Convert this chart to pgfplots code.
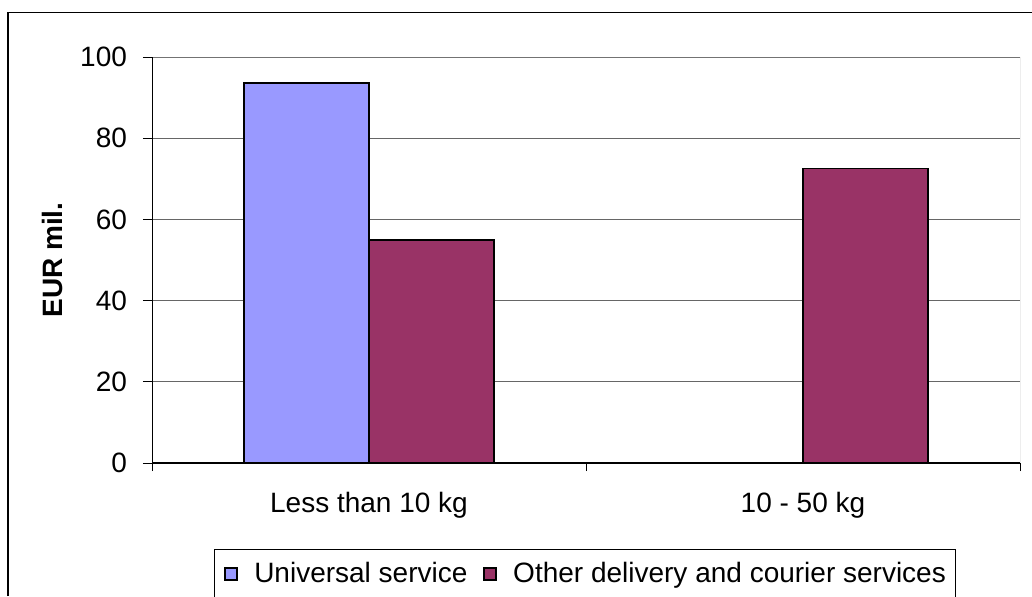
\documentclass[border=0pt]{standalone}
\usepackage{fontspec}
\setmainfont{Liberation Sans}
\usepackage{pgfplots}
\pgfplotsset{compat=1.18}
\definecolor{univ}{HTML}{9999FF}
\definecolor{other}{HTML}{993366}

\begin{document}
\begin{tikzpicture}
\useasboundingbox (0,0) rectangle (516pt,298pt);
% chart frame (open at the right and bottom)
\draw[line width=0.6pt] (4pt,0) -- (4pt,291.75pt) -- (516pt,291.75pt);
\begin{axis}[
  at={(76pt,66.5pt)}, anchor=south west,
  scale only axis, width=434pt, height=203pt,
  font=\fontsize{14}{16.5}\selectfont,
  /pgf/number format/assume math mode=true,
  ybar=0pt, bar width=0.288,
  xmin=0, xmax=2, ymin=0, ymax=100,
  ytick={0,20,...,100},
  xtick={0.5,1.5},
  xticklabels={Less than 10 kg, 10 - 50 kg},
  minor xtick={0,1,2},
  major x tick style={draw=none},
  tick align=outside, major tick length=4.5pt, minor tick length=4pt,
  xtick pos=left, ytick pos=left,
  tick style={black, line width=0.5pt},
  yticklabel style={xshift=-4.5pt},
  xticklabel style={yshift=-6.5pt},
  axis line style={draw=none},
  ymajorgrids, grid style={black!60, line width=0.5pt},
  ylabel={\textbf{EUR mil.}},
  ylabel style={at={(axis description cs:-0.1152,0.5)}, anchor=center, inner sep=0pt},
  legend columns=-1,
  legend style={at={(axis description cs:0.0714,-0.2118)}, anchor=north west,
    draw=black, line width=0.5pt, inner xsep=5pt, inner ysep=6.3pt,
    column sep=8pt, nodes={inner sep=0pt}},
  legend image code/.code={\draw[#1, draw=black, line width=0.9pt] (0pt,-3pt) rectangle (6pt,3pt);},
]
\addplot[fill=univ, draw=black, line width=0.8pt] coordinates {(0.5,93.6)};
\addplot[fill=other, draw=black, line width=0.8pt] coordinates {(0.5,55.0) (1.5,72.5)};
\legend{Universal service, Other delivery and courier services}
% plot area border: grey at top and right, black axes at left and bottom
\draw[black!55, line width=0.5pt] (rel axis cs:0,1) -- (rel axis cs:1,1) -- (rel axis cs:1,0);
\draw[black, line width=0.6pt] (rel axis cs:0,1) -- (rel axis cs:0,0) -- (rel axis cs:1,0);
\end{axis}
\end{tikzpicture}
\end{document}
